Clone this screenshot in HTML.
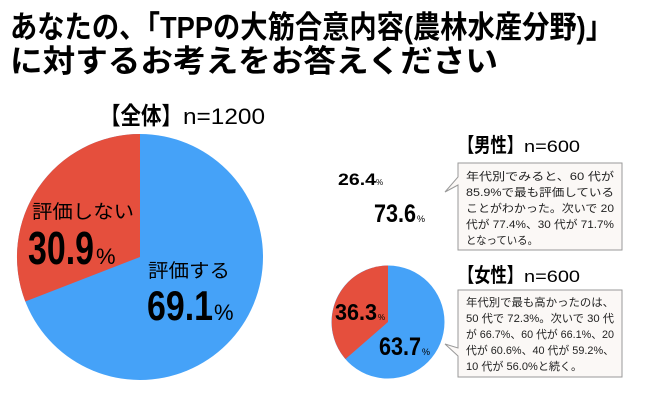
<!DOCTYPE html>
<html><head><meta charset="utf-8"><style>
html,body{margin:0;padding:0;background:#fff;}
svg{display:block;}
text{font-family:"Liberation Sans","Noto Sans CJK JP",sans-serif;}
</style></head><body>
<svg width="645" height="400" viewBox="0 0 645 400" xmlns="http://www.w3.org/2000/svg">
<rect width="645" height="400" fill="#fff"/>
<text x="10" y="38" font-size="31" font-weight="bold" textLength="603" lengthAdjust="spacingAndGlyphs">あなたの、「TPPの大筋合意内容(農林水産分野)」</text>
<text x="10" y="72" font-size="31" font-weight="bold" textLength="488" lengthAdjust="spacingAndGlyphs">に対するお考えをお答えください</text>

<text x="100" y="124" font-size="24" font-weight="bold" textLength="82" lengthAdjust="spacingAndGlyphs">【全体】</text>
<text x="183" y="124" font-size="22" textLength="82" lengthAdjust="spacingAndGlyphs">n=1200</text>

<circle cx="140" cy="257" r="123" fill="#45a2f8"/>
<path d="M140,257 L140,134 A123,123 0 0 0 25.3,301.5 Z" fill="#e54f3d"/>
<text x="32" y="218" font-size="19" textLength="102" lengthAdjust="spacingAndGlyphs">評価しない</text>
<text x="28" y="264" font-size="46" font-weight="bold" textLength="66" lengthAdjust="spacingAndGlyphs">30.9</text>
<text x="96" y="264" font-size="22">%</text>
<text x="148" y="277" font-size="19" textLength="82" lengthAdjust="spacingAndGlyphs">評価する</text>
<text x="147" y="320" font-size="42" font-weight="bold" textLength="66" lengthAdjust="spacingAndGlyphs">69.1</text>
<text x="214" y="320" font-size="22">%</text>

<text x="338" y="185" font-size="17" font-weight="bold" textLength="38" lengthAdjust="spacingAndGlyphs">26.4</text>
<text x="376" y="185" font-size="8">%</text>
<text x="374" y="222" font-size="25" font-weight="bold" textLength="42" lengthAdjust="spacingAndGlyphs">73.6</text>
<text x="417" y="222" font-size="9">%</text>

<text x="458" y="152" font-size="20" font-weight="bold" textLength="65" lengthAdjust="spacingAndGlyphs">【男性】</text>
<text x="524" y="152" font-size="17" textLength="56" lengthAdjust="spacingAndGlyphs">n=600</text>
<path d="M458,163 L622,163 L622,250 L458,250 L458,185 L445,192 L458,177 Z" fill="#fbf8f6" stroke="#999" stroke-width="1"/>
<g font-size="11" fill="#222">
<text x="466" y="180" textLength="148" lengthAdjust="spacingAndGlyphs">年代別でみると、60 代が</text>
<text x="466" y="196" textLength="148" lengthAdjust="spacingAndGlyphs">85.9%で最も評価している</text>
<text x="466" y="212" textLength="148" lengthAdjust="spacingAndGlyphs">ことがわかった。次いで 20</text>
<text x="466" y="228" textLength="148" lengthAdjust="spacingAndGlyphs">代が 77.4%、30 代が 71.7%</text>
<text x="466" y="244" textLength="72" lengthAdjust="spacingAndGlyphs">となっている。</text>
</g>

<circle cx="388" cy="322" r="56.5" fill="#45a2f8"/>
<path d="M388,322 L388,265.5 A56.5,56.5 0 0 0 345.5,359 Z" fill="#e54f3d"/>
<text x="335" y="320" font-size="23" font-weight="bold" textLength="42" lengthAdjust="spacingAndGlyphs">36.3</text>
<text x="378" y="320" font-size="8">%</text>
<text x="379" y="355" font-size="25" font-weight="bold" textLength="42" lengthAdjust="spacingAndGlyphs">63.7</text>
<text x="422" y="355" font-size="9">%</text>

<text x="458" y="282" font-size="20" font-weight="bold" textLength="65" lengthAdjust="spacingAndGlyphs">【女性】</text>
<text x="524" y="282" font-size="17" textLength="56" lengthAdjust="spacingAndGlyphs">n=600</text>
<path d="M458,290 L622,290 L622,377 L458,377 L458,356 L445,344 L458,348 Z" fill="#fbf8f6" stroke="#999" stroke-width="1"/>
<g font-size="11" fill="#222">
<text x="466" y="306" textLength="148" lengthAdjust="spacingAndGlyphs">年代別で最も高かったのは、</text>
<text x="466" y="322" textLength="148" lengthAdjust="spacingAndGlyphs">50 代で 72.3%。次いで 30 代</text>
<text x="466" y="338" textLength="148" lengthAdjust="spacingAndGlyphs">が 66.7%、60 代が 66.1%、20</text>
<text x="466" y="354" textLength="148" lengthAdjust="spacingAndGlyphs">代が 60.6%、40 代が 59.2%、</text>
<text x="466" y="370" textLength="116" lengthAdjust="spacingAndGlyphs">10 代が 56.0%と続く。</text>
</g>
</svg>
</body></html>
